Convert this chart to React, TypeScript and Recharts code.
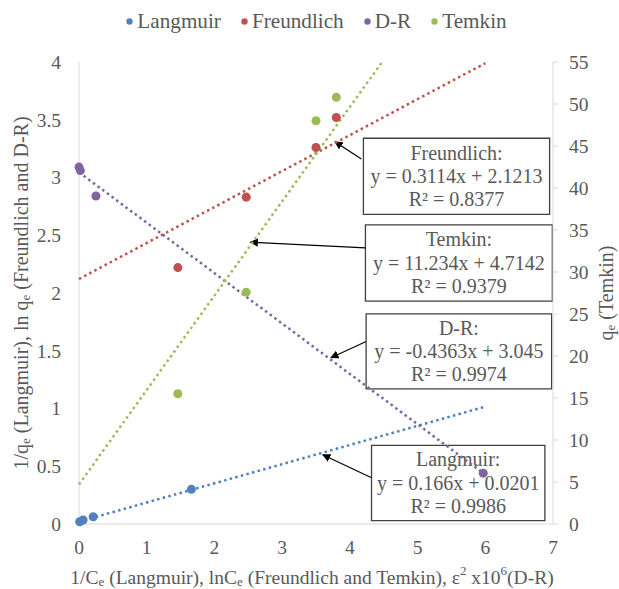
import * as React from 'react';
import {
  ComposedChart,
  Scatter,
  XAxis,
  YAxis,
  Legend,
  ReferenceArea,
  ReferenceLine,
} from 'recharts';

// measured points
const langmuirX = [0.01, 0.06, 0.21, 1.66];
const langmuirY = [0.02, 0.035, 0.063, 0.3];
const freundlichX = [1.46, 2.47, 3.5, 3.8];
const freundlichY = [2.22, 2.83, 3.26, 3.52];
const drX = [0.0, 0.02, 0.25, 5.97];
const drY = [3.09, 3.06, 2.84, 0.44];
const temkinX = [1.46, 2.47, 3.5, 3.8];
const temkinY = [15.5, 27.6, 48.0, 50.8];

// trendline fits (slope, intercept) and range on x
const fitSlopes = [0.166, 0.3114, -0.4363, 11.234];
const fitIntercepts = [0.0201, 2.1213, 3.045, 4.7142];
const fitRange = [0, 6];

const seriesNames = ['Langmuir', 'Freundlich', 'D-R', 'Temkin'];
const seriesColors = ['#4F81BD', '#C0504D', '#8064A2', '#9BBB59'];

const xTicks = [0, 1, 2, 3, 4, 5, 6, 7];
const leftTicks = [0, 0.5, 1, 1.5, 2, 2.5, 3, 3.5, 4];
const rightTicks = [0, 5, 10, 15, 20, 25, 30, 35, 40, 45, 50, 55];

const boxTitles = ['Freundlich:', 'Temkin:', 'D-R:', 'Langmuir:'];
const boxEquations = [
  'y = 0.3114x + 2.1213',
  'y = 11.234x + 4.7142',
  'y = -0.4363x + 3.045',
  'y = 0.166x + 0.0201',
];
const boxR2 = ['R² = 0.8377', 'R² = 0.9379', 'R² = 0.9974', 'R² = 0.9986'];

// annotation placement, in left-axis data units
const boxAreas = [
  { x1: 4.2, x2: 6.95, y1: 2.68, y2: 3.34 },
  { x1: 4.23, x2: 6.99, y1: 1.93, y2: 2.59 },
  { x1: 4.24, x2: 6.98, y1: 1.17, y2: 1.82 },
  { x1: 4.32, x2: 6.88, y1: 0.03, y2: 0.68 },
];
const arrows = [
  { from: { x: 4.17, y: 3.16 }, to: { x: 3.78, y: 3.31 } },
  { from: { x: 4.23, y: 2.39 }, to: { x: 2.53, y: 2.44 } },
  { from: { x: 4.24, y: 1.58 }, to: { x: 3.72, y: 1.44 } },
  { from: { x: 4.32, y: 0.4 }, to: { x: 3.6, y: 0.6 } },
];

const FONT = "'Liberation Serif', 'Times New Roman', serif";
const TEXT = '#595959';
const AXIS = '#D9D9D9';

const toPoints = (xs: number[], ys: number[]) => xs.map((x, i) => ({ x, y: ys[i] }));

const scatterData = [
  toPoints(langmuirX, langmuirY),
  toPoints(freundlichX, freundlichY),
  toPoints(drX, drY),
  toPoints(temkinX, temkinY),
];

const trendData = fitSlopes.map((m, i) =>
  fitRange.map((x) => ({ x, y: m * x + fitIntercepts[i] })),
);

const makeBoxLabel = (i: number) => (props: any) => {
  const vb = props.viewBox || {};
  const cx = vb.x + vb.width / 2;
  const cy = vb.y + vb.height / 2;
  return (
    <text x={cx} y={cy} textAnchor="middle" style={{ fontFamily: FONT, fontSize: 20 }} fill={TEXT}>
      <tspan x={cx} y={cy - 23.5} dominantBaseline="central">{boxTitles[i]}</tspan>
      <tspan x={cx} y={cy} dominantBaseline="central">{boxEquations[i]}</tspan>
      <tspan x={cx} y={cy + 23} dominantBaseline="central">{boxR2[i]}</tspan>
    </text>
  );
};

const LeftTitle = (props: any) => {
  const vb = props.viewBox || {};
  const cx = 21;
  const cy = vb.y + vb.height / 2;
  return (
    <text
      x={cx}
      y={cy}
      transform={`rotate(-90 ${cx} ${cy})`}
      textAnchor="middle"
      dominantBaseline="central"
      style={{ fontFamily: FONT, fontSize: 20 }}
      fill={TEXT}
    >
      <tspan>1/q</tspan>
      <tspan fontSize={13} dy={4}>e</tspan>
      <tspan dy={-4}> (Langmuir), ln q</tspan>
      <tspan fontSize={13} dy={4}>e</tspan>
      <tspan dy={-4}> (Freundlich and D-R)</tspan>
    </text>
  );
};

const RightTitle = (props: any) => {
  const vb = props.viewBox || {};
  const cx = 606;
  const cy = vb.y + vb.height / 2;
  return (
    <text
      x={cx}
      y={cy}
      transform={`rotate(-90 ${cx} ${cy})`}
      textAnchor="middle"
      dominantBaseline="central"
      style={{ fontFamily: FONT, fontSize: 20 }}
      fill={TEXT}
    >
      <tspan>q</tspan>
      <tspan fontSize={13} dy={4}>e</tspan>
      <tspan dy={-4}> (Temkin)</tspan>
    </text>
  );
};

const BottomTitle = (props: any) => {
  const vb = props.viewBox || {};
  const cx = vb.x + vb.width / 2 - 4;
  const cy = 577;
  return (
    <text
      x={cx}
      y={cy}
      textAnchor="middle"
      dominantBaseline="central"
      style={{ fontFamily: FONT, fontSize: 19.5 }}
      fill={TEXT}
    >
      <tspan>1/C</tspan>
      <tspan fontSize={13} dy={4}>e</tspan>
      <tspan dy={-4}> (Langmuir), lnC</tspan>
      <tspan fontSize={13} dy={4}>e</tspan>
      <tspan dy={-4}> (Freundlich and Temkin), ε</tspan>
      <tspan fontSize={13} dy={-7}>2</tspan>
      <tspan dy={7}> x10</tspan>
      <tspan fontSize={13} dy={-7}>6</tspan>
      <tspan dy={7}>(D-R)</tspan>
    </text>
  );
};

const LegendRow = () => (
  <div
    style={{
      display: 'flex',
      justifyContent: 'center',
      alignItems: 'center',
      gap: 20,
      height: 30,
      paddingLeft: 14,
      fontFamily: FONT,
      fontSize: 21.2,
      color: TEXT,
    }}
  >
    {seriesNames.map((name, i) => (
      <span key={name} style={{ display: 'flex', alignItems: 'center', gap: 4 }}>
        <svg width={7} height={7}>
          <circle cx={3.5} cy={3.5} r={3.2} fill={seriesColors[i]} />
        </svg>
        {name}
      </span>
    ))}
  </div>
);

const tickStyle = { fontFamily: FONT, fontSize: 19.5, fill: TEXT };

export default function App() {
  return (
    <div style={{ position: 'absolute', left: 0, top: 0, background: '#fff', fontFamily: FONT }}>
      <ComposedChart
        width={619}
        height={589}
        margin={{ top: 32, right: 0, bottom: 0, left: 0 }}
        style={{ fontFamily: FONT }}
      >
        <defs>
          <marker id="arrowHead" viewBox="0 0 10 10" refX="9" refY="5" markerWidth="7" markerHeight="7" orient="auto">
            <path d="M0,0 L10,5 L0,10 z" fill="#000" />
          </marker>
        </defs>
        <XAxis
          type="number"
          dataKey="x"
          domain={[0, 7]}
          ticks={xTicks}
          height={65}
          stroke={AXIS}
          tickLine={false}
          tickMargin={10}
          tick={tickStyle}
          label={BottomTitle}
        />
        <YAxis
          yAxisId="left"
          type="number"
          dataKey="y"
          domain={[0, 4]}
          ticks={leftTicks}
          width={79}
          stroke={AXIS}
          tickLine={false}
          tickMargin={12}
          tick={tickStyle}
          label={LeftTitle}
        />
        <YAxis
          yAxisId="right"
          orientation="right"
          type="number"
          dataKey="y"
          domain={[0, 55]}
          allowDataOverflow
          ticks={rightTicks}
          width={66}
          stroke={AXIS}
          tickSize={5}
          tickMargin={11}
          tick={tickStyle}
          label={RightTitle}
        />
        <Legend verticalAlign="top" height={30} wrapperStyle={{ left: 0, width: 619, top: 6 }} content={LegendRow} />

        {trendData.map((pts, i) => (
          <Scatter
            key={`trend-${i}`}
            yAxisId={i === 3 ? 'right' : 'left'}
            data={pts}
            line={{ stroke: seriesColors[i], strokeWidth: 2.5, strokeDasharray: '2.5 3.3' }}
            shape={() => <g />}
            legendType="none"
            isAnimationActive={false}
          />
        ))}
        {scatterData.map((pts, i) => (
          <Scatter
            key={seriesNames[i]}
            name={seriesNames[i]}
            yAxisId={i === 3 ? 'right' : 'left'}
            data={pts}
            fill={seriesColors[i]}
            isAnimationActive={false}
          />
        ))}

        {boxAreas.map((b, i) => (
          <ReferenceArea
            key={`box-${i}`}
            yAxisId="left"
            x1={b.x1}
            x2={b.x2}
            y1={b.y1}
            y2={b.y2}
            fill="#fff"
            fillOpacity={1}
            stroke="#404040"
            strokeWidth={1.3}
            label={makeBoxLabel(i)}
          />
        ))}
        {arrows.map((a, i) => (
          <ReferenceLine
            key={`arrow-${i}`}
            yAxisId="left"
            segment={[a.from, a.to]}
            stroke="#000"
            strokeWidth={1.2}
            markerEnd="url(#arrowHead)"
          />
        ))}
      </ComposedChart>
    </div>
  );
}
